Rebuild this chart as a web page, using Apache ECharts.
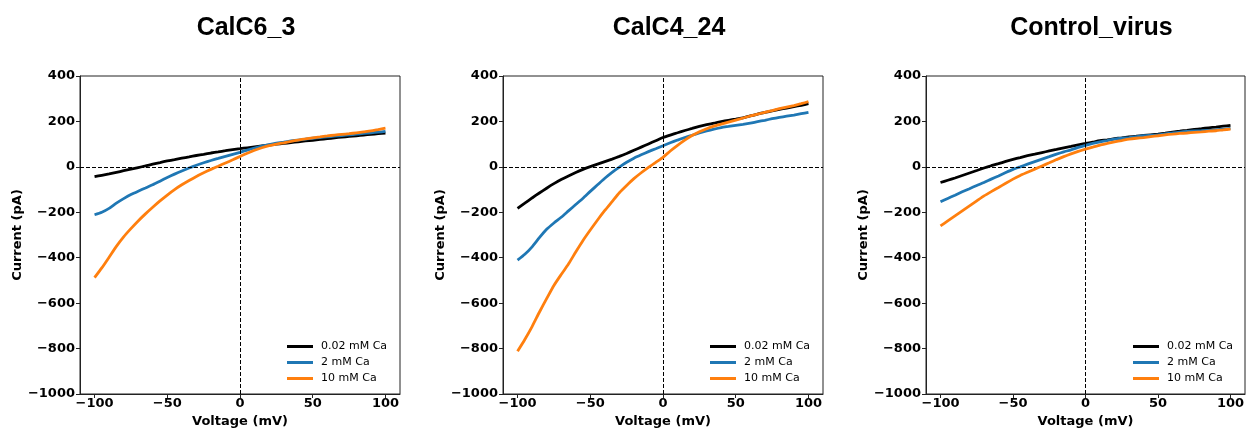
<!DOCTYPE html>
<html>
<head>
<meta charset="utf-8">
<script src="https://cdn.jsdelivr.net/npm/echarts@6/dist/echarts.min.js"></script>
<style>
html,body{margin:0;padding:0;background:#fff;}
#chart{width:1250px;height:428px;}
</style>
</head>
<body>
<div id="chart"></div>
<script>
// ---- data ----
const panelTitles = ['CalC6_3', 'CalC4_24', 'Control_virus'];
const seriesNames = ['0.02 mM Ca', '2 mM Ca', '10 mM Ca'];
const voltage = [-100,-95,-90,-85,-80,-75,-70,-65,-60,-55,-50,-45,-40,-35,-30,-25,-20,-15,-10,-5,0,5,10,15,20,25,30,35,40,45,50,55,60,65,70,75,80,85,90,95,100];
const xTicks = [-100, -50, 0, 50, 100];

// CalC6_3
const calc6_low  = [-43,-37,-31,-24,-17,-10,-3,4,12,19,26,32,38,44,50,55,61,66,71,76,80,84,88,92,96,100,103,107,110,114,117,121,124,128,131,134,137,140,143,146,149];
const calc6_mid  = [-211,-200,-183,-160,-140,-122,-107,-93,-79,-63,-47,-32,-18,-5,7,18,28,37,46,55,64,74,83,91,98,104,109,114,118,122,126,129,132,135,138,141,144,147,150,153,156];
const calc6_high = [-488,-445,-398,-350,-308,-272,-238,-207,-178,-150,-124,-100,-79,-60,-42,-26,-11,3,17,31,46,60,73,84,93,100,106,112,118,123,128,132,136,140,143,146,150,154,158,164,170];

// CalC4_24
const calc4_low  = [-183,-160,-137,-115,-94,-74,-56,-40,-25,-11,1,12,23,34,46,59,73,87,101,115,129,140,150,160,169,178,186,192,199,205,210,216,224,232,240,246,253,259,265,271,278];
const calc4_mid  = [-411,-385,-352,-312,-275,-247,-222,-194,-166,-138,-108,-79,-50,-24,-1,20,38,53,67,80,93,106,118,129,139,149,158,166,173,178,183,187,192,199,205,212,218,223,228,234,240];
const calc4_high = [-812,-760,-703,-640,-580,-522,-474,-428,-375,-324,-278,-234,-192,-153,-114,-82,-52,-26,-2,20,42,70,95,118,138,155,168,179,188,197,206,215,224,232,240,248,256,263,270,278,287];

// Control_virus
const ctrl_low  = [-69,-59,-49,-38,-27,-16,-5,5,14,24,33,41,49,56,63,70,77,84,90,97,103,109,115,119,124,128,132,135,138,141,144,148,153,157,161,165,168,172,175,179,183];
const ctrl_mid  = [-154,-139,-125,-110,-96,-82,-69,-54,-40,-25,-11,0,12,23,34,45,56,66,75,86,95,103,110,116,122,126,129,133,137,139,141,145,149,153,156,158,159,161,163,166,169];
const ctrl_high = [-260,-238,-216,-194,-172,-150,-128,-109,-91,-72,-54,-38,-24,-10,4,18,32,45,57,68,78,87,96,103,110,116,122,126,129,133,137,141,144,147,149,152,154,157,159,163,166];

const panelData = [
  [calc6_low, calc6_mid, calc6_high],
  [calc4_low, calc4_mid, calc4_high],
  [ctrl_low, ctrl_mid, ctrl_high]
];

// ---- styling / layout ----
const colors = ['#000000', '#1f77b4', '#ff7f0e'];
const gridLefts = [80, 503, 926];
const gridWidths = [320, 320, 319];
const FONT = 'DejaVu Sans';
const fmt = v => String(v).replace('-', '\u2212');

const chart = echarts.init(document.getElementById('chart'), null, {renderer: 'canvas'});

const grid = [], xAxis = [], yAxis = [], series = [], title = [], legend = [];
for (let p = 0; p < 3; p++) {
  grid.push({left: gridLefts[p], top: 76, width: gridWidths[p], height: 318,
    containLabel: false, outerBoundsMode: 'none',
    show: true, borderColor: '#222', borderWidth: 1, backgroundColor: 'transparent'});
  title.push({text: panelTitles[p], left: gridLefts[p] + gridWidths[p] / 2 + 1, top: 11, textAlign: 'center',
    textStyle: {fontFamily: 'Liberation Sans', fontWeight: 'bold', fontSize: 25, color: '#000'}});
  xAxis.push({type: 'value', gridIndex: p, min: -110, max: 110,
    name: 'Voltage (mV)', nameLocation: 'middle', nameGap: 19,
    nameTextStyle: {fontFamily: FONT, fontWeight: 'bold', fontSize: 13, color: '#000'},
    axisLine: {show: true, onZero: false, lineStyle: {color: '#222', width: 1}},
    axisTick: {show: true, inside: false, length: 4, customValues: xTicks, lineStyle: {color: '#222'}},
    axisLabel: {show: true, margin: 3, customValues: xTicks, formatter: fmt,
      fontFamily: FONT, fontWeight: 'bold', fontSize: 13, color: '#000'},
    splitLine: {show: false}});
  yAxis.push({type: 'value', gridIndex: p, min: -1000, max: 400, interval: 200,
    name: 'Current (pA)', nameLocation: 'middle', nameGap: 56,
    nameTextStyle: {fontFamily: FONT, fontWeight: 'bold', fontSize: 13, color: '#000'},
    axisLine: {show: true, onZero: false, lineStyle: {color: '#222', width: 1}},
    axisTick: {show: true, inside: false, length: 4, lineStyle: {color: '#222'}},
    axisLabel: {show: true, margin: 5, formatter: fmt,
      fontFamily: FONT, fontWeight: 'bold', fontSize: 13, color: '#000'},
    splitLine: {show: false}});
  for (let s = 0; s < 3; s++) {
    const vals = panelData[p][s];
    const ser = {
      type: 'line', name: seriesNames[s], xAxisIndex: p, yAxisIndex: p,
      data: voltage.map((v, i) => [v, vals[i]]),
      showSymbol: false, symbol: 'none', smooth: 0.2,
      lineStyle: {color: colors[s], width: 2.8}, itemStyle: {color: colors[s]},
      z: 3 + s, animation: false
    };
    if (s === 0) {
      ser.markLine = {silent: true, symbol: 'none', animation: false,
        label: {show: false},
        lineStyle: {color: '#000', width: 1, type: [4, 2]},
        data: [{xAxis: 0}, {yAxis: 0}]};
    }
    series.push(ser);
  }
  legend.push({orient: 'vertical', left: gridLefts[p] + 202, top: 336,
    icon: 'rect', itemWidth: 26, itemHeight: 3, itemGap: 5,
    data: seriesNames,
    textStyle: {fontFamily: FONT, fontSize: 11, color: '#000', padding: [0, 0, 0, 3]},
    selectedMode: false});
}

chart.setOption({
  animation: false,
  backgroundColor: '#fff',
  title, grid, xAxis, yAxis, legend, series
});
</script>
</body>
</html>
